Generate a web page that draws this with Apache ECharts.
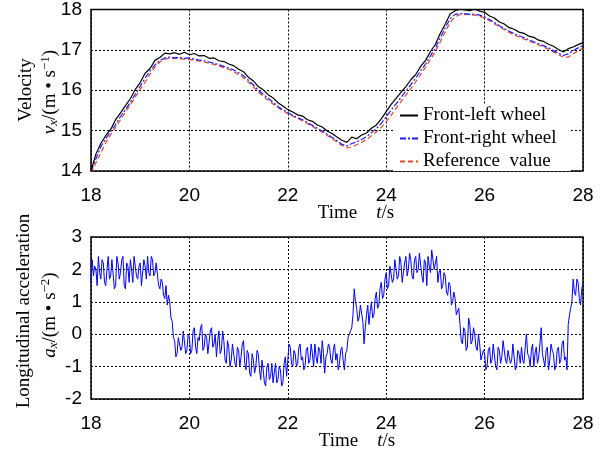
<!DOCTYPE html>
<html>
<head>
<meta charset="utf-8">
<script src="https://cdn.jsdelivr.net/npm/echarts@6/dist/echarts.min.js"></script>
<style>
  html, body { margin: 0; padding: 0; background: #fff; }
  #chart { width: 607px; height: 454px; }
</style>
</head>
<body>
<div id="chart"></div>
<script>
// sampling: velocity every 0.1 s, acceleration every 0.025 s, starting at 18 s
const tStart = 18;
const velStep = 0.1;
const accStep = 0.025;

// front-left wheel speed (m/s)
const frontLeft = [
  14.00, 14.42, 14.68, 14.88, 15.03, 15.27, 15.44, 15.62, 15.79, 16.02,
  16.19, 16.42, 16.54, 16.74, 16.81, 16.92, 16.90, 16.93, 16.89, 16.94,
  16.88, 16.91, 16.85, 16.86, 16.79, 16.80, 16.73, 16.71, 16.65, 16.61,
  16.52, 16.46, 16.32, 16.23, 16.09, 16.01, 15.89, 15.81, 15.69, 15.61,
  15.52, 15.46, 15.39, 15.36, 15.27, 15.23, 15.14, 15.09, 14.99, 14.93,
  14.84, 14.76, 14.71, 14.84, 14.80, 14.89, 14.94, 15.06, 15.14, 15.29,
  15.47, 15.65, 15.80, 15.95, 16.09, 16.26, 16.39, 16.59, 16.74, 16.96,
  17.14, 17.41, 17.64, 17.89, 17.97, 18.01, 17.99, 17.97, 18.01, 17.96,
  17.93, 17.84, 17.79, 17.69, 17.64, 17.55, 17.51, 17.44, 17.41, 17.34,
  17.31, 17.24, 17.21, 17.14, 17.09, 17.01, 16.95, 17.03, 17.07, 17.13,
  17.18
];

// front-right wheel speed (m/s)
const frontRight = [
  14.00, 14.30, 14.60, 14.80, 14.98, 15.15, 15.35, 15.52, 15.70, 15.90,
  16.10, 16.30, 16.48, 16.63, 16.74, 16.80, 16.82, 16.80, 16.81, 16.79,
  16.80, 16.77, 16.75, 16.73, 16.70, 16.67, 16.63, 16.59, 16.55, 16.50,
  16.43, 16.36, 16.25, 16.13, 16.00, 15.90, 15.80, 15.70, 15.60, 15.52,
  15.45, 15.38, 15.32, 15.27, 15.20, 15.13, 15.06, 14.99, 14.91, 14.83,
  14.75, 14.66, 14.62, 14.68, 14.72, 14.78, 14.85, 14.95, 15.05, 15.18,
  15.34, 15.51, 15.66, 15.82, 15.98, 16.14, 16.30, 16.48, 16.65, 16.85,
  17.05, 17.30, 17.55, 17.77, 17.88, 17.90, 17.90, 17.88, 17.89, 17.86,
  17.82, 17.75, 17.68, 17.60, 17.53, 17.46, 17.40, 17.35, 17.30, 17.25,
  17.20, 17.15, 17.10, 17.05, 16.98, 16.92, 16.86, 16.90, 16.98, 17.05,
  17.10
];

// reference vehicle speed (m/s)
const refSpeed = [
  13.95, 14.20, 14.45, 14.70, 14.90, 15.08, 15.27, 15.46, 15.64, 15.83,
  16.02, 16.20, 16.40, 16.57, 16.70, 16.77, 16.79, 16.79, 16.78, 16.77,
  16.76, 16.74, 16.72, 16.70, 16.67, 16.64, 16.60, 16.56, 16.52, 16.46,
  16.39, 16.31, 16.20, 16.08, 15.96, 15.85, 15.75, 15.66, 15.57, 15.49,
  15.42, 15.36, 15.30, 15.24, 15.17, 15.10, 15.03, 14.96, 14.88, 14.80,
  14.72, 14.63, 14.57, 14.60, 14.65, 14.71, 14.78, 14.87, 14.97, 15.08,
  15.22, 15.38, 15.55, 15.72, 15.88, 16.04, 16.21, 16.39, 16.57, 16.76,
  16.96, 17.20, 17.45, 17.68, 17.82, 17.87, 17.88, 17.87, 17.86, 17.83,
  17.79, 17.72, 17.65, 17.57, 17.50, 17.43, 17.37, 17.32, 17.27, 17.22,
  17.17, 17.12, 17.07, 17.01, 16.95, 16.88, 16.82, 16.82, 16.90, 16.98,
  17.05
];

// longitudinal acceleration (m/s^2), one row per 0.25 s
const accel = [
  1.6, 2.3, 1.8, 2.1, 2.0, 1.5, 2.4, 1.9, 1.7, 2.3,
  2.2, 1.6, 1.5, 2.0, 2.4, 1.7, 1.8, 2.3, 2.3, 1.4,
  1.5, 2.4, 2.2, 1.7, 1.9, 2.3, 2.4, 1.5, 1.4, 2.2,
  2.1, 1.6, 2.3, 2.0, 1.6, 2.4, 2.4, 1.8, 1.7, 2.1,
  2.2, 1.5, 1.5, 2.3, 2.1, 1.7, 2.4, 1.9, 1.8, 2.4,
  2.3, 1.8, 1.9, 2.2, 2.2, 1.5, 1.4, 1.7, 1.6, 1.2,
  1.1, 1.5, 0.9, 1.2, 1.0, 0.5, 0.4, -0.1, -0.2, -0.7,
  -0.6, -0.1, -0.1, -0.5, -0.4, 0.1, 0.1, -0.6, -0.5, 0.0,
  -0.1, -0.6, -0.5, 0.1, 0.2, -0.4, -0.6, -0.1, -0.2, 0.2,
  0.3, -0.5, -0.4, 0.0, -0.1, -0.6, -0.6, 0.1, 0.2, -0.4,
  -0.3, 0.0, -0.7, -0.2, 0.1, -0.6, -0.5, 0.1, -0.2, -0.8,
  -0.9, -0.2, -0.4, -1.0, -0.8, -0.3, -0.3, -0.9, -1.0, -0.4,
  -0.5, -1.0, -0.7, -0.3, -0.2, -0.9, -1.1, -0.5, -0.6, -1.2,
  -1.3, -0.6, -0.8, -1.2, -1.0, -0.5, -0.6, -1.1, -1.4, -0.8,
  -1.1, -1.5, -1.6, -1.0, -0.9, -1.4, -1.3, -0.9, -1.5, -1.2,
  -0.9, -1.5, -1.4, -1.0, -1.1, -1.6, -1.5, -0.9, -0.7, -1.3,
  -0.8, -0.3, -0.4, -0.9, -1.0, -0.5, -0.6, -1.0, -0.9, -0.4,
  -0.3, -0.8, -0.7, -1.1, -1.0, -0.5, -0.4, -0.9, -0.8, -0.3,
  -0.6, -1.0, -0.3, -0.7, -0.9, -0.4, -0.5, -0.9, -0.2, -0.6,
  -1.2, -0.7, -0.6, -0.3, -0.4, -0.8, -0.9, -0.5, -0.3, -0.8,
  -0.6, -1.1, -0.9, -0.5, -0.4, -0.8, -1.1, -0.6, -0.5, -0.1,
  0.0, 0.1, 0.2, 0.6, 1.4, 1.0, 0.8, 0.4, 0.5, 0.9,
  0.9, 0.4, -0.3, 0.2, 0.6, 0.9, 0.3, 0.7, 1.0, 0.5,
  0.6, 1.1, 1.3, 0.8, 0.9, 1.4, 1.6, 1.1, 1.2, 1.7,
  1.9, 1.4, 1.5, 2.1, 2.1, 1.6, 1.7, 2.3, 2.3, 1.7,
  1.8, 2.4, 2.2, 1.6, 1.6, 2.2, 2.4, 1.8, 2.0, 2.5,
  2.3, 1.8, 1.7, 2.3, 2.4, 1.9, 2.0, 2.5, 2.5, 1.8,
  1.6, 2.3, 2.2, 1.5, 2.4, 2.1, 1.9, 2.6, 2.6, 2.0,
  2.2, 2.4, 1.6, 1.9, 2.0, 1.4, 1.5, 1.9, 1.8, 1.3,
  1.2, 1.6, 1.5, 0.9, 1.0, 1.3, 1.1, 0.6, 0.6, 0.8,
  0.3, -0.2, -0.3, 0.2, 0.1, -0.5, -0.4, 0.5, 0.3, -0.3,
  -0.2, 0.2, 0.0, -0.4, -0.5, 0.0, -0.3, -0.8, -0.8, -0.5,
  -0.6, -1.1, -1.0, -0.5, -0.4, -0.9, -0.8, -0.3, -0.3, -1.0,
  -1.1, -0.4, -0.5, -0.9, -0.7, -0.2, -0.2, -0.8, -0.9, -0.5,
  -0.5, -0.9, -0.8, -0.3, -0.3, -1.1, -1.0, -0.5, -0.6, -0.9,
  -0.4, -0.8, -0.9, -0.4, 0.0, -0.6, -0.7, -1.0, -0.5, -0.3,
  -1.0, -0.6, -0.4, -0.9, -0.7, -0.3, 0.2, -0.6, -0.8, -1.0,
  -0.5, -0.4, -1.1, -0.8, -0.3, -0.5, -0.6, -1.1, -1.0, -0.5,
  -0.4, -0.9, -0.8, -0.3, -0.2, -0.8, -0.7, -1.1, 0.3, 0.6,
  0.8, 1.0, 1.7, 1.3, 1.2, 1.7, 1.6, 1.1, 0.9, 1.4,
  1.6
];

const pairs = (vals, step) => vals.map((v, i) => [+(tStart + i * step).toFixed(3), v]);

const serif = '"Liberation Serif", "DejaVu Serif", serif';
const sans = '"Liberation Sans", Arial, sans-serif';

const gridLine = { show: true, lineStyle: { color: '#000', type: [2, 2], width: 1 } };

function xAxisFor(gridIndex) {
  return {
    type: 'value', gridIndex, min: 18, max: 28, interval: 2,
    axisLine: { show: false }, axisTick: { show: false },
    axisLabel: { fontFamily: sans, fontSize: 19, color: '#000', margin: 15 },
    splitLine: gridLine,
  };
}

function yAxisFor(gridIndex, min, max) {
  return {
    type: 'value', gridIndex, min, max, interval: 1,
    axisLine: { show: false }, axisTick: { show: false },
    axisLabel: { fontFamily: sans, fontSize: 19, color: '#000', margin: 9 },
    splitLine: gridLine,
  };
}

const rich = {
  n: { fontFamily: serif, fontSize: 19, color: '#000' },
  i: { fontFamily: serif, fontSize: 19, fontStyle: 'italic', color: '#000' },
  sub: { fontFamily: serif, fontSize: 13, fontStyle: 'italic', color: '#000', padding: [8, 0, 0, 0] },
  sup: { fontFamily: serif, fontSize: 13, color: '#000', padding: [0, 0, 8, 0] },
};

function rotText(x, y, text) {
  return {
    type: 'text', x, y, rotation: Math.PI / 2,
    style: { text, rich, align: 'center', verticalAlign: 'middle', fontFamily: serif, fontSize: 19, fill: '#000' },
  };
}

function plainText(x, y, text) {
  return {
    type: 'text', x, y,
    style: { text, rich, align: 'center', verticalAlign: 'middle', fontFamily: serif, fontSize: 19, fill: '#000' },
  };
}

const chart = echarts.init(document.getElementById('chart'), null, { renderer: 'canvas' });

chart.setOption({
  animation: false,
  backgroundColor: '#fff',
  grid: [
    { left: 91, right: 24, top: 7, height: 164, show: true, borderColor: '#000', borderWidth: 1.5, backgroundColor: 'transparent' },
    { left: 91, right: 24, top: 237, height: 162, show: true, borderColor: '#000', borderWidth: 1.5, backgroundColor: 'transparent' },
  ],
  xAxis: [xAxisFor(0), xAxisFor(1)],
  yAxis: [yAxisFor(0, 14, 18), yAxisFor(1, -2, 3)],
  legend: {
    z: 1,
    left: 393, top: 104, orient: 'vertical', itemGap: 4, itemWidth: 18, itemHeight: 10,
    backgroundColor: '#fff', padding: [2, 14, 0, 6],
    itemStyle: { opacity: 0 },
    textStyle: { fontFamily: serif, fontSize: 19, color: '#000' },
    data: ['Front-left wheel', 'Front-right wheel', 'Reference  value'],
  },
  graphic: [
    rotText(26, 90, '{n|Velocity}'),
    rotText(50, 92, '{i|v}{sub|x}{n|/(m • s}{sup|−1}{n|)}'),
    rotText(24, 311, '{n|Longitudinal acceleration}'),
    rotText(50, 315, '{i|a}{sub|x}{n|/(m • s}{sup|−2}{n|)}'),
    plainText(356, 213, '{n|Time    }{i|t}{n|/s}'),
    plainText(357, 441, '{n|Time    }{i|t}{n|/s}'),
  ],
  series: [
    {
      name: 'Reference  value', type: 'line', xAxisIndex: 0, yAxisIndex: 0,
      data: pairs(refSpeed, velStep), showSymbol: false, symbol: 'none',
      lineStyle: { color: '#e8432a', width: 1.2, type: [5, 3] }, itemStyle: { color: '#e8432a' },
    },
    {
      name: 'Front-right wheel', type: 'line', xAxisIndex: 0, yAxisIndex: 0,
      data: pairs(frontRight, velStep), showSymbol: false, symbol: 'none',
      lineStyle: { color: '#1a1aff', width: 1.2, type: [6, 2, 2, 2] }, itemStyle: { color: '#1a1aff' },
    },
    {
      name: 'Front-left wheel', type: 'line', xAxisIndex: 0, yAxisIndex: 0,
      data: pairs(frontLeft, velStep), showSymbol: false, symbol: 'none',
      lineStyle: { color: '#000', width: 1.2 }, itemStyle: { color: '#000' },
    },
    {
      name: 'accel', type: 'line', xAxisIndex: 1, yAxisIndex: 1,
      data: pairs(accel, accStep), showSymbol: false, symbol: 'none',
      lineStyle: { color: '#0000ff', width: 1 },
    },
  ],
});
</script>
</body>
</html>
